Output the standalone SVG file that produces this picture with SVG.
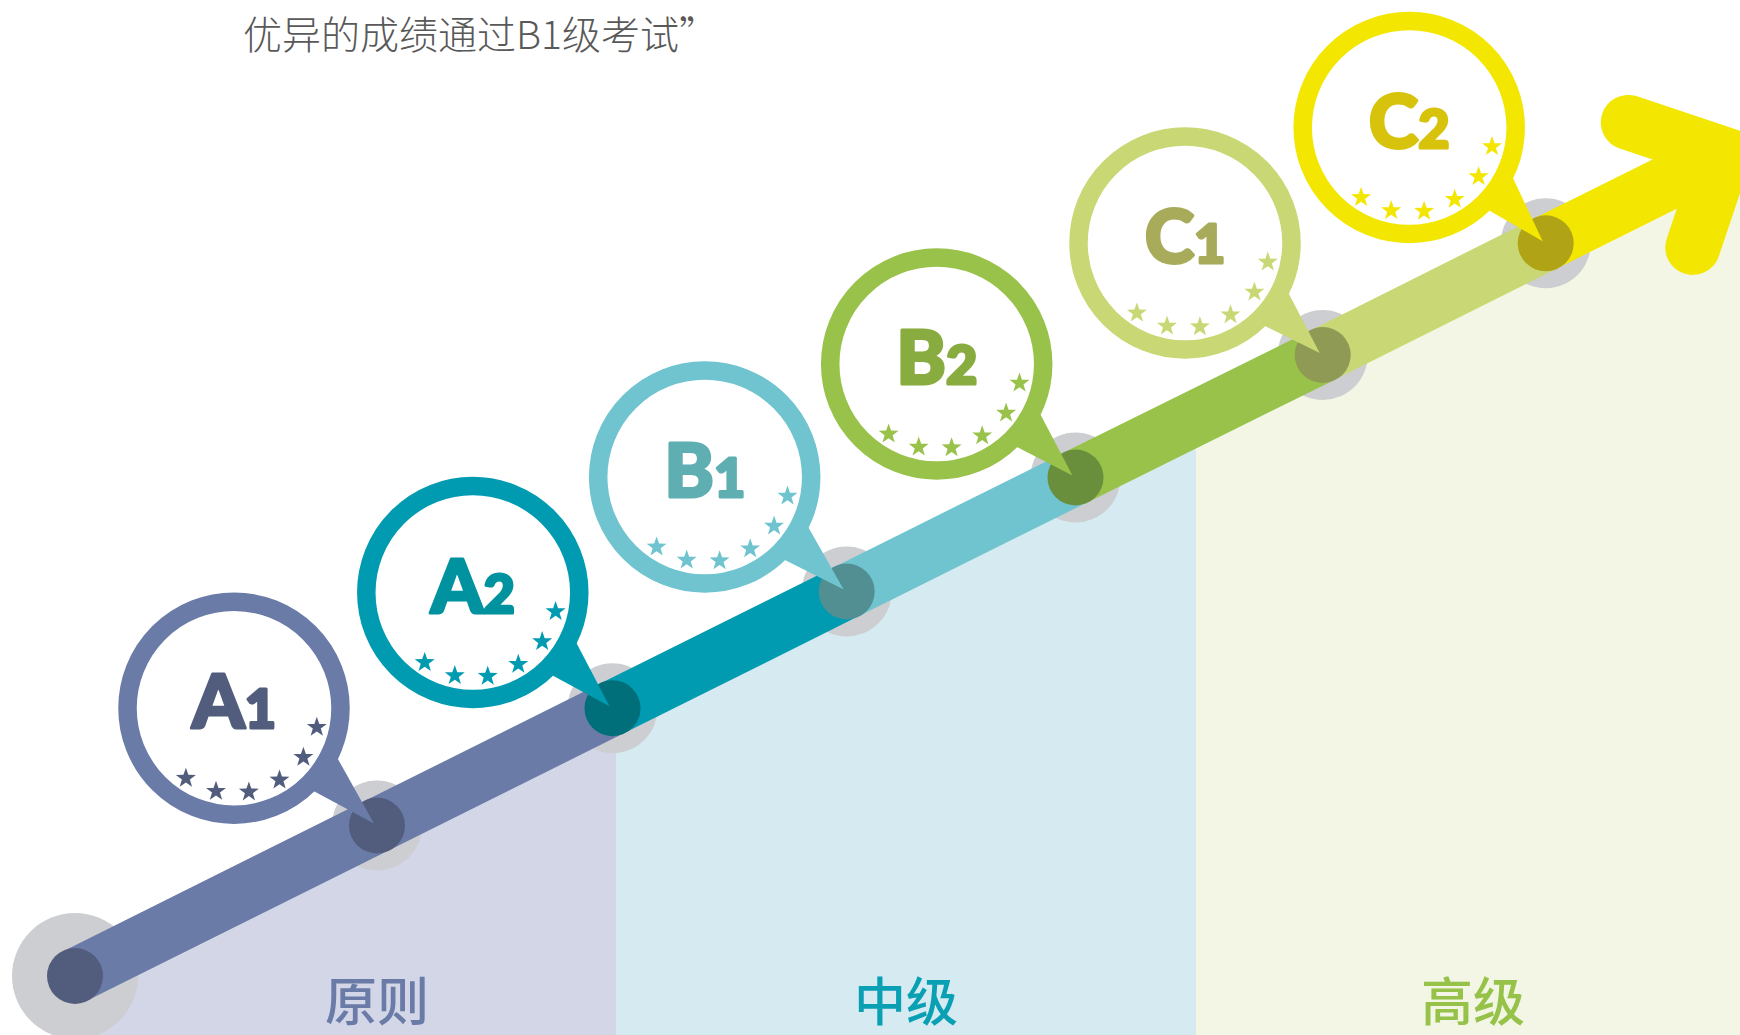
<svg xmlns="http://www.w3.org/2000/svg" width="1740" height="1035" viewBox="0 0 1740 1035">
<defs>
<style>
.seg{fill:none;stroke-width:55;stroke-linecap:butt}
.halo{fill:#cdced1}
.ring{fill:#fff;stroke-width:18.5}
.lbl{font-family:Lato,"Liberation Sans",sans-serif;font-weight:900;font-size:75px;text-anchor:middle;stroke-width:3;stroke-linejoin:round}
.dig{font-size:54px}
.band{font-family:"Noto Sans CJK SC","Noto Sans",sans-serif;font-weight:500;font-size:52px;text-anchor:middle}
</style>
<path id="star" d="M0,-10.5 L2.47,-3.4 9.99,-3.25 3.99,1.29 6.17,8.5 0,4.2 -6.17,8.5 -3.99,1.29 -9.99,-3.25 -2.47,-3.4Z"/>
<g id="stars">
<use href="#star" x="-48.1" y="70"/>
<use href="#star" x="-18" y="83.1"/>
<use href="#star" x="14.9" y="83.7"/>
<use href="#star" x="45.5" y="71.8"/>
<use href="#star" x="69.4" y="49.1"/>
<use href="#star" x="82.8" y="19.1"/>
</g>
</defs>
<rect width="1740" height="1035" fill="#fff"/>
<text x="243" y="49" font-family="'Noto Sans CJK SC',sans-serif" font-weight="300" font-size="39" fill="#595959">优异的成绩通过B1级考试”</text>
<g id="bands">
<polygon points="75,976 616,706.5 616,1035 75,1035" fill="#d3d6e7"/>
<polygon points="616,706.5 1196,417.5 1196,1035 616,1035" fill="#d5ebf1"/>
<polygon points="1196,417.5 1740,146.5 1740,1035 1196,1035" fill="#f3f6e5"/>
<text class="band" x="377" y="1021" fill="#6a7ba8">原则</text>
<text class="band" x="906" y="1021" fill="#0aa0b4">中级</text>
<text class="band" x="1473" y="1021" fill="#97c24a">高级</text>
</g>
<g id="halos">
<circle class="halo" cx="75" cy="976" r="63"/>
<circle class="halo" cx="377" cy="825.5" r="45"/>
<circle class="halo" cx="612.5" cy="708.2" r="45"/>
<circle class="halo" cx="846.7" cy="591.5" r="45"/>
<circle class="halo" cx="1075.5" cy="477.5" r="45"/>
<circle class="halo" cx="1322.7" cy="355" r="45"/>
<circle class="halo" cx="1545.7" cy="243.3" r="45"/>
</g>
<g id="connectors">
<line class="seg" x1="75" y1="976" x2="612.5" y2="708.2" stroke="#6a7ba8"/>
<line class="seg" x1="612.5" y1="708.2" x2="846.7" y2="591.5" stroke="#009bb0"/>
<line class="seg" x1="846.7" y1="591.5" x2="1075.5" y2="477.5" stroke="#6fc4cf"/>
<line class="seg" x1="1075.5" y1="477.5" x2="1322.7" y2="355" stroke="#98c24a"/>
<line class="seg" x1="1322.7" y1="355" x2="1545.7" y2="243.3" stroke="#c9d874"/>
<line class="seg" x1="1545.7" y1="243.3" x2="1724" y2="154.5" stroke="#f3e600"/>
<polyline points="1628.3,122.4 1724,154.5 1692.8,247.4" fill="none" stroke="#f3e600" stroke-width="55" stroke-linecap="round" stroke-linejoin="miter"/>
</g>
<g id="nodes">
<circle id="start" cx="75" cy="976" r="28" fill="#525d7e"/>
<circle cx="377" cy="825.5" r="28" fill="#525d7e"/>
<circle cx="612.5" cy="708.2" r="28" fill="#006f79"/>
<circle cx="846.7" cy="591.5" r="28" fill="#528f92"/>
<circle cx="1075.5" cy="477.5" r="28" fill="#6a8f3c"/>
<circle cx="1322.7" cy="355" r="28" fill="#8f9a55"/>
<circle cx="1545.7" cy="243.3" r="28" fill="#b0a416"/>
</g>
<g id="A1" transform="translate(234,708.2)">
<polygon points="140,115.3 89.3,24.7 56.3,70.2" fill="#6a7ba8"/>
<circle class="ring" r="106.5" stroke="#6a7ba8"/>
<use href="#stars" fill="#525d7e"/>
<text class="lbl" y="20" fill="#525d7e" stroke="#525d7e">A<tspan class="dig">1</tspan></text>
</g>
<g id="A2" transform="translate(472.8,592.5)">
<polygon points="136.7,113.7 90.6,25.4 57.6,70.9" fill="#009bb0"/>
<circle class="ring" r="106.5" stroke="#009bb0"/>
<use href="#stars" fill="#009bb0"/>
<text class="lbl" y="20" fill="#00929f" stroke="#00929f">A<tspan class="dig">2</tspan></text>
</g>
<g id="B1" transform="translate(704.7,477)">
<polygon points="139,112.5 89.7,25.8 56.7,71.3" fill="#6fc4cf"/>
<circle class="ring" r="106.5" stroke="#6fc4cf"/>
<use href="#stars" fill="#6fc4cf"/>
<text class="lbl" y="20" fill="#5fafb2" stroke="#5fafb2">B<tspan class="dig">1</tspan></text>
</g>
<g id="B2" transform="translate(936.7,364)">
<polygon points="135.8,111.5 91,26.2 58,71.7" fill="#98c24a"/>
<circle class="ring" r="106.5" stroke="#98c24a"/>
<use href="#stars" fill="#98c24a"/>
<text class="lbl" y="20" fill="#88ac3f" stroke="#88ac3f">B<tspan class="dig">2</tspan></text>
</g>
<g id="C1" transform="translate(1185,243)">
<polygon points="134.7,110 91.4,26.8 58.4,72.3" fill="#c9d874"/>
<circle class="ring" r="106.5" stroke="#c9d874"/>
<use href="#stars" fill="#c9d874"/>
<text class="lbl" y="20" fill="#a7ab5a" stroke="#a7ab5a">C<tspan class="dig">1</tspan></text>
</g>
<g id="C2" transform="translate(1409.2,127.5)">
<polygon points="133.5,113.8 91.9,25.3 58.9,70.8" fill="#f3e600"/>
<circle class="ring" r="106.5" stroke="#f3e600"/>
<use href="#stars" fill="#f3e600"/>
<text class="lbl" y="20" fill="#d8c30c" stroke="#d8c30c">C<tspan class="dig">2</tspan></text>
</g>
</svg>
